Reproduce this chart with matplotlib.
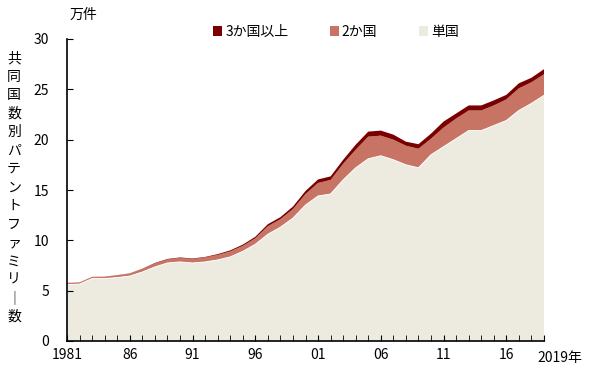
import numpy as np
import matplotlib.pyplot as plt
from matplotlib.patches import Patch

plt.rcParams['font.family'] = ['Noto Sans CJK JP', 'DejaVu Sans']

# data (万件)
years = np.arange(1981, 2020)
single = [5.6, 5.65, 6.2, 6.2, 6.3, 6.45, 6.85, 7.35, 7.75, 7.85,
          7.75, 7.85, 8.05, 8.35, 8.9, 9.6, 10.6, 11.3, 12.2, 13.5,
          14.4, 14.6, 16.0, 17.2, 18.1, 18.4, 18.0, 17.5, 17.2, 18.5,
          19.3, 20.1, 20.9, 20.9, 21.4, 21.9, 22.9, 23.6, 24.4]
two = [0.18, 0.18, 0.18, 0.2, 0.22, 0.25, 0.3, 0.35, 0.35, 0.4,
       0.4, 0.45, 0.5, 0.55, 0.55, 0.6, 0.8, 0.8, 0.9, 1.1,
       1.3, 1.4, 1.6, 1.8, 2.2, 2.0, 2.0, 1.9, 1.9, 1.6,
       1.9, 2.0, 2.0, 2.0, 2.0, 2.1, 2.2, 2.1, 2.1]
three = [0.0, 0.0, 0.0, 0.0, 0.02, 0.02, 0.03, 0.05, 0.05, 0.05,
         0.05, 0.05, 0.08, 0.1, 0.12, 0.15, 0.2, 0.2, 0.25, 0.3,
         0.35, 0.35, 0.4, 0.5, 0.5, 0.5, 0.5, 0.4, 0.45, 0.5,
         0.6, 0.5, 0.5, 0.5, 0.5, 0.45, 0.5, 0.45, 0.5]

labels = ['単国', '2か国', '3か国以上']
colors = ['#edebe0', '#c87464', '#7a0000']
xtick_years = [1981, 1986, 1991, 1996, 2001, 2006, 2011, 2016, 2019]
xtick_labels = ['1981', '86', '91', '96', '01', '06', '11', '16', '']
ylabel = '共同国数別パテントファミリー数'

fig = plt.figure(figsize=(6, 3.69), dpi=100)
ax = fig.add_axes([67 / 600, 28 / 369, 477 / 600, 302 / 369])

ax.stackplot(years, single, two, three, colors=colors, linewidth=0)
# thin white rim on top of the single-country area
ax.plot(years, single, color='white', lw=0.7)

ax.set_xlim(1981, 2019)
ax.set_ylim(0, 30)
ax.set_yticks(range(0, 31, 5))
ax.set_xticks(xtick_years)
ax.set_xticklabels(xtick_labels)
ax.set_xticks(years, minor=True)
ax.tick_params(axis='both', which='both', direction='in', labelsize=10)
ax.tick_params(axis='y', length=4, pad=13)
ax.tick_params(axis='x', which='both', length=4, pad=5)

for s in ['top', 'right']:
    ax.spines[s].set_visible(False)
for s in ['left', 'bottom']:
    ax.spines[s].set_linewidth(1.2)

ax.annotate('2019年', xy=(2019, 0), xycoords=('data', 'axes fraction'),
            xytext=(-5, -7), textcoords='offset points',
            ha='left', va='top', fontsize=10)

# unit label and vertical axis title
fig.text(70 / 600, 1 - 15 / 369, '万件', ha='left', va='center', fontsize=10)
ys = np.linspace(58, 317, len(ylabel))
for ch, y in zip(ylabel, ys):
    if ch == 'ー':
        ch = '｜'
    fig.text(14 / 600, 1 - y / 369, ch, ha='center', va='center', fontsize=10)

handles = [Patch(facecolor=colors[i], edgecolor='none', label=labels[i])
           for i in [2, 1, 0]]
fig.legend(handles=handles, loc='center', bbox_to_anchor=(336 / 600, 1 - 32 / 369),
           ncol=3, frameon=False, fontsize=10, handlelength=0.65,
           handleheight=0.65, handletextpad=0.2, columnspacing=3.0)

fig.savefig('out.png', dpi=100)
